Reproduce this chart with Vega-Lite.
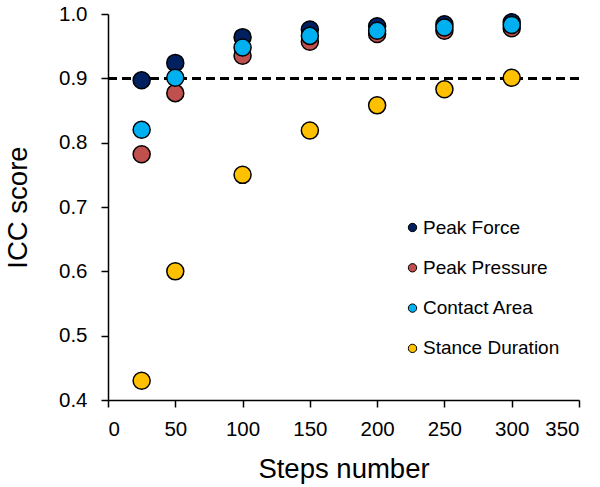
{
  "$schema": "https://vega.github.io/schema/vega-lite/v6.json",
  "width": 471,
  "height": 386,
  "autosize": "none",
  "padding": {"left": 108, "top": 14, "right": 21, "bottom": 87},
  "background": "white",
  "config": {
    "font": "Liberation Sans",
    "view": {"stroke": null},
    "axis": {
      "grid": false,
      "domainColor": "black",
      "domainWidth": 1.5,
      "tickColor": "black",
      "tickWidth": 1.5,
      "tickSize": 7,
      "labelFontSize": 20.5,
      "labelColor": "black",
      "titleFontSize": 27.5,
      "titleFontWeight": "normal",
      "titleColor": "black"
    }
  },
  "data": {
    "values": [
      {"steps": 25, "series": "Peak Force", "icc": 0.897},
      {"steps": 50, "series": "Peak Force", "icc": 0.924},
      {"steps": 100, "series": "Peak Force", "icc": 0.964},
      {"steps": 150, "series": "Peak Force", "icc": 0.976},
      {"steps": 200, "series": "Peak Force", "icc": 0.981},
      {"steps": 250, "series": "Peak Force", "icc": 0.984},
      {"steps": 300, "series": "Peak Force", "icc": 0.987},
      {"steps": 25, "series": "Peak Pressure", "icc": 0.782},
      {"steps": 50, "series": "Peak Pressure", "icc": 0.877},
      {"steps": 100, "series": "Peak Pressure", "icc": 0.935},
      {"steps": 150, "series": "Peak Pressure", "icc": 0.957},
      {"steps": 200, "series": "Peak Pressure", "icc": 0.969},
      {"steps": 250, "series": "Peak Pressure", "icc": 0.974},
      {"steps": 300, "series": "Peak Pressure", "icc": 0.978},
      {"steps": 25, "series": "Contact Area", "icc": 0.820},
      {"steps": 50, "series": "Contact Area", "icc": 0.901},
      {"steps": 100, "series": "Contact Area", "icc": 0.948},
      {"steps": 150, "series": "Contact Area", "icc": 0.966},
      {"steps": 200, "series": "Contact Area", "icc": 0.974},
      {"steps": 250, "series": "Contact Area", "icc": 0.979},
      {"steps": 300, "series": "Contact Area", "icc": 0.983},
      {"steps": 25, "series": "Stance Duration", "icc": 0.43},
      {"steps": 50, "series": "Stance Duration", "icc": 0.60},
      {"steps": 100, "series": "Stance Duration", "icc": 0.75},
      {"steps": 150, "series": "Stance Duration", "icc": 0.819},
      {"steps": 200, "series": "Stance Duration", "icc": 0.858},
      {"steps": 250, "series": "Stance Duration", "icc": 0.883},
      {"steps": 300, "series": "Stance Duration", "icc": 0.901}
    ]
  },
  "layer": [
    {
      "mark": {"type": "rule", "color": "black", "strokeWidth": 2, "strokeDash": [9, 5]},
      "encoding": {"y": {"datum": 0.9, "type": "quantitative", "scale": {"domain": [0.4, 1.0]}}}
    },
    {
      "mark": {"type": "point", "filled": true, "shape": "circle", "size": 290, "stroke": "black", "strokeWidth": 1.5, "opacity": 1},
      "encoding": {
        "x": {
          "field": "steps", "type": "quantitative",
          "scale": {"domain": [0, 350], "nice": false, "zero": true},
          "axis": {"values": [0, 50, 100, 150, 200, 250, 300, 350], "title": "Steps number", "labelPadding": 12, "titlePadding": 16}
        },
        "y": {
          "field": "icc", "type": "quantitative",
          "scale": {"domain": [0.4, 1.0], "nice": false, "zero": false},
          "axis": {"values": [0.4, 0.5, 0.6, 0.7, 0.8, 0.9, 1.0], "format": ".1f", "title": "ICC score", "labelPadding": 14, "titlePadding": 26}
        },
        "color": {
          "field": "series", "type": "nominal",
          "scale": {
            "domain": ["Peak Force", "Peak Pressure", "Contact Area", "Stance Duration"],
            "range": ["#002060", "#C0504D", "#00B0F0", "#FFC000"]
          },
          "legend": {
            "title": null,
            "orient": "none",
            "legendX": 295,
            "legendY": 204,
            "padding": 0,
            "symbolSize": 70,
            "symbolStrokeColor": "black",
            "symbolStrokeWidth": 1,
            "labelFontSize": 19,
            "labelColor": "black",
            "labelOffset": 1,
            "rowPadding": 20.3
          }
        }
      }
    }
  ]
}
